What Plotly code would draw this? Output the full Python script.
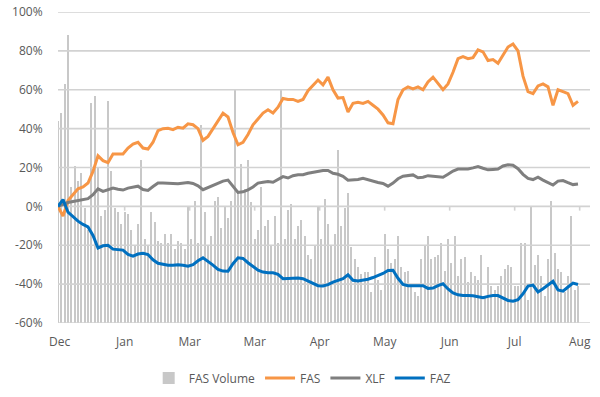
import plotly.graph_objects as go

# ---- data ----
# line series sampled every 1.5 trading days
fas = [0, -5, 3, 6, 9, 10, 12, 18, 26, 23.5, 22.5, 27, 27, 27, 30, 32, 33, 30, 29.5, 33,
       39, 40, 40.2, 39.5, 40.7, 40.2, 42.5, 42, 40, 34, 36, 40, 44, 48, 46, 38, 31.7, 33, 37, 42,
       45, 48, 49.7, 48, 51, 55.5, 55, 55, 54, 55, 59.5, 62.5, 65, 62.5, 66.5, 60, 55.7, 56, 48.5, 53,
       53.5, 53, 54, 52, 50, 47, 43, 42.5, 55, 60, 61.5, 60.5, 61.5, 60, 64, 66.5, 63, 60, 63, 69,
       76, 77, 76, 76.5, 80.5, 79.5, 75, 75.5, 73.6, 78, 82, 83.5, 80, 67, 59, 58, 62, 63, 61.5, 52,
       60, 59, 58, 52, 54]
xlf = [0, 1, 2, 2.5, 3, 3.5, 4, 6, 9, 7.7, 8.5, 9.4, 8.8, 8.4, 9.4, 10, 10.4, 8.7, 8.2, 10.2,
       12, 12, 12, 11.8, 11.6, 12, 12.3, 11.8, 10.6, 8.6, 9.8, 11, 12, 13, 13.5, 10.5, 7.2, 7.5, 8.5, 10,
       12, 12.4, 12.8, 12.4, 14, 15.3, 14.6, 15.8, 16.3, 16.3, 17, 17.5, 18.3, 18.5, 18.5, 17, 16.5, 15.5, 13.5, 13.6,
       13.8, 14.4, 13.6, 12.7, 12.3, 11.8, 10.4, 12, 14.2, 15.5, 16, 16.2, 14.7, 15, 15.8, 15.6, 15.4, 15, 16.5, 18.2,
       19.2, 19.2, 19.2, 19.8, 20.5, 19.6, 18.8, 19, 19.2, 20.8, 21.4, 21.2, 19.4, 16.5, 14.4, 13.8, 15, 13.5, 12.4, 11,
       13, 13.3, 12.2, 11.2, 11.5]
faz = [0, 3.5, -3, -5.5, -7.6, -9.3, -10.6, -15, -21.4, -20.3, -20, -22, -22.3, -22.5, -24.7, -25.6, -24.5, -24.1, -24.8, -27.5,
       -29.3, -29.8, -30.3, -30.3, -30, -30.3, -30.8, -30, -28, -26.5, -28.3, -30.2, -32.4, -33.3, -33.4, -29.5, -26.5, -26.8, -29, -31,
       -32.8, -33.8, -34.2, -34.2, -35, -37.2, -37, -36.8, -36.8, -37.2, -38.5, -39.8, -40.8, -41, -40.3, -39, -38.2, -37.2, -35.2, -38,
       -38.4, -38, -37.5, -36.6, -35.6, -34.5, -33, -32.9, -37, -40.2, -40.8, -40.8, -40.8, -40.8, -42.2, -42, -40.8, -39.8, -42.5, -44.5,
       -45.5, -45.9, -45.9, -46, -46.5, -47, -46.3, -45.9, -45.9, -47.3, -48.4, -48.8, -48, -45, -41, -40.5, -44, -42.4, -40.5, -38.5,
       -43, -43.6, -41.5, -39.5, -40.2]
line_days = [i * 1.5 for i in range(len(fas))]

# FAS volume, one value per trading day (scaled so the axis span equals 160)
fas_volume = [104, 108, 123, 148, 70, 81, 73, 77, 59, 48, 113, 117, 80, 55, 58, 114, 78, 59, 57, 51,
              57, 56, 48, 40, 51, 84, 43, 40, 57, 52, 42, 41, 46, 41, 46, 38, 42, 41, 38, 60,
              43, 63, 41, 102, 57, 40, 45, 63, 65, 49, 60, 54, 63, 120, 68, 82, 69, 84, 62, 43,
              48, 70, 50, 53, 40, 55, 41, 120, 43, 58, 61, 43, 50, 53, 45, 35, 33, 40, 60, 43,
              64, 51, 40, 46, 89, 50, 59, 67, 39, 33, 29, 25, 26, 26, 16, 34, 22, 17, 46, 38,
              31, 33, 45, 29, 26, 27, 20, 16, 14, 33, 40, 45, 33, 34, 35, 41, 27, 43, 31, 45,
              24, 33, 34, 21, 26, 24, 22, 35, 14, 29, 19, 17, 19, 24, 28, 30, 29, 19, 19, 41,
              41, 12, 60, 30, 35, 24, 14, 33, 63, 36, 28, 26, 16, 24, 55, 17, 19]
volume_days = list(range(len(fas_volume)))

tick_days = [0.5, 20, 39.5, 59, 78.5, 98, 117.5, 137, 156.5]
tick_labels = ["Dec", "Jan", "Mar", "Mar", "Apr", "May", "Jun", "Jul", "Aug"]
y_ticks = [-60, -40, -20, 0, 20, 40, 60, 80, 100]
x_range = [0, 159.6]

FONT = "Open Sans"
TXT = "#595959"
GRID = "#D2D2D2"

fig = go.Figure()
# horizontal gridlines at every y tick (drawn as a trace so they sit under the marks)
grid_x, grid_y = [], []
for v in y_ticks:
    grid_x += [x_range[0], x_range[1], None]
    grid_y += [v, v, None]
fig.add_trace(go.Scatter(x=grid_x, y=grid_y, mode="lines",
                         line=dict(color=GRID, width=1.6), showlegend=False,
                         hoverinfo="skip", cliponaxis=False))
fig.add_trace(go.Bar(
    x=volume_days, y=fas_volume, base=-60, name="FAS Volume",
    marker=dict(color="#C8C8C8", line=dict(width=0)), width=0.38,
))
# short tick marks hanging below the 0% line at each month label (Excel axis crossing at 0)
tick_x, tick_y = [], []
for d in tick_days:
    tick_x += [d, d, None]
    tick_y += [0, -2.2, None]
fig.add_trace(go.Scatter(x=tick_x, y=tick_y, mode="lines",
                         line=dict(color=GRID, width=1.6), showlegend=False,
                         hoverinfo="skip"))
fig.add_trace(go.Scatter(x=line_days, y=fas, name="FAS", mode="lines",
                         line=dict(color="#F79646", width=3)))
fig.add_trace(go.Scatter(x=line_days, y=xlf, name="XLF", mode="lines",
                         line=dict(color="#7F7F7F", width=3)))
fig.add_trace(go.Scatter(x=line_days, y=faz, name="FAZ", mode="lines",
                         line=dict(color="#0070C0", width=3)))

fig.update_layout(
    template="none",
    width=600, height=397, autosize=False,
    margin=dict(l=58, r=10, t=12, b=74, pad=0, autoexpand=False),
    paper_bgcolor="white", plot_bgcolor="white",
    font=dict(family=FONT, size=12, color=TXT),
    showlegend=True, bargap=0,
    legend=dict(orientation="h", x=0.459, xanchor="center", y=-0.177, yanchor="middle",
                font=dict(size=12, color=TXT), itemwidth=30, traceorder="normal",
                bgcolor="rgba(0,0,0,0)"),
    xaxis=dict(range=x_range, tickmode="array", tickvals=tick_days, ticktext=tick_labels,
               showgrid=False, zeroline=False, showline=False, automargin=False,
               ticks="outside", ticklen=8, tickcolor="rgba(0,0,0,0)",
               tickfont=dict(size=12, color=TXT)),
    yaxis=dict(range=[-60, 100], tickmode="array", tickvals=y_ticks,
               ticktext=[f"{v}%" for v in y_ticks], automargin=False,
               showgrid=True, gridcolor="#D9D9D9", gridwidth=1, zeroline=False,
               showline=False, ticks="outside", ticklen=12, tickcolor="rgba(0,0,0,0)",
               tickfont=dict(size=12, color=TXT)),
)

# remove the browser's default 8px page margin so the 600x397 figure fills the window
fig.write_html("out.html", config={"displayModeBar": False},
               post_script="document.body.style.margin='0';document.body.style.padding='0';")
